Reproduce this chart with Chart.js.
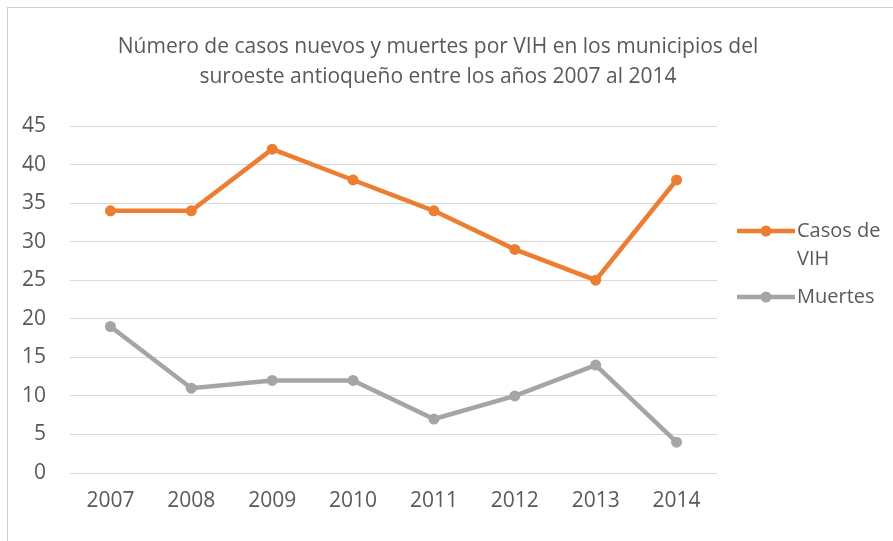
<!DOCTYPE html>
<html>
<head>
<meta charset="utf-8">
<script src="https://cdn.jsdelivr.net/npm/chart.js@4/dist/chart.umd.min.js"></script>
<style>
html,body{margin:0;padding:0;background:#fff;}
#wrap{position:relative;width:893px;height:541px;overflow:hidden;}
#frame{position:absolute;left:7px;top:7px;width:900px;height:560px;border:1px solid #d0d0d0;box-sizing:border-box;}
canvas{position:absolute;left:0;top:0;}
</style>
</head>
<body>
<div id="wrap"><div id="frame"></div><canvas id="c" width="893" height="541"></canvas></div>
<script>
const categories = ["2007","2008","2009","2010","2011","2012","2013","2014"];
const casosVIH = [34,34,42,38,34,29,25,38];
const muertes = [19,11,12,12,7,10,14,4];
const seriesNames = ["Casos de VIH","Muertes"];
const titleLines = ["Número de casos nuevos y muertes por VIH en los municipios del","suroeste antioqueño entre los años 2007 al 2014"];
const legendLines = [["Casos de","VIH"],["Muertes"]];

const ORANGE = "#ED7D31", GRAY = "#A5A5A5", TXT = "#595959";
const FONT = "'Open Sans', sans-serif";

const decor = {
  id: "decor",
  afterDraw(chart) {
    const ctx = chart.ctx;
    ctx.save();
    ctx.fillStyle = TXT;
    ctx.textAlign = "center";
    ctx.textBaseline = "middle";
    ctx.font = "21px " + FONT;
    ctx.fillText(titleLines[0], 438, 47);
    ctx.fillText(titleLines[1], 438, 77);
    // legend
    const items = [
      {color: ORANGE, y: 231, lines: legendLines[0]},
      {color: GRAY, y: 297, lines: legendLines[1]}
    ];
    ctx.textAlign = "left";
    ctx.font = "20px " + FONT;
    items.forEach(it => {
      ctx.strokeStyle = it.color;
      ctx.lineWidth = 4.5;
      ctx.beginPath();
      ctx.moveTo(737, it.y);
      ctx.lineTo(795, it.y);
      ctx.stroke();
      ctx.fillStyle = it.color;
      ctx.beginPath();
      ctx.arc(766, it.y, 5.5, 0, Math.PI * 2);
      ctx.fill();
      ctx.fillStyle = TXT;
      it.lines.forEach((l, i) => ctx.fillText(l, 797, it.y + i * 28));
    });
    ctx.restore();
  }
};

new Chart(document.getElementById("c"), {
  type: "line",
  data: {
    labels: categories,
    datasets: [
      {label: seriesNames[0], data: casosVIH, borderColor: ORANGE, backgroundColor: ORANGE,
       borderWidth: 4.5, pointRadius: 5.5, pointBorderWidth: 0, pointBackgroundColor: ORANGE, tension: 0},
      {label: seriesNames[1], data: muertes, borderColor: GRAY, backgroundColor: GRAY,
       borderWidth: 4.5, pointRadius: 5.5, pointBorderWidth: 0, pointBackgroundColor: GRAY, tension: 0}
    ]
  },
  options: {
    responsive: false,
    animation: false,
    devicePixelRatio: 1,
    layout: {padding: {left: 0, top: 126, right: 176, bottom: 0}},
    plugins: {legend: {display: false}, title: {display: false}, tooltip: {enabled: false}},
    scales: {
      x: {
        offset: true,
        grid: {display: false, drawTicks: false},
        border: {display: false},
        ticks: {color: TXT, font: {size: 21, family: FONT}, padding: 15, maxRotation: 0},
        afterFit(s) { s.height = 68; }
      },
      y: {
        min: 0, max: 45,
        ticks: {stepSize: 5, color: TXT, font: {size: 21, family: FONT}, padding: 24},
        grid: {color: "#d9d9d9", lineWidth: 1, drawTicks: false},
        border: {display: false},
        afterFit(s) { s.width = 70; }
      }
    }
  },
  plugins: [decor]
});
</script>
</body>
</html>
